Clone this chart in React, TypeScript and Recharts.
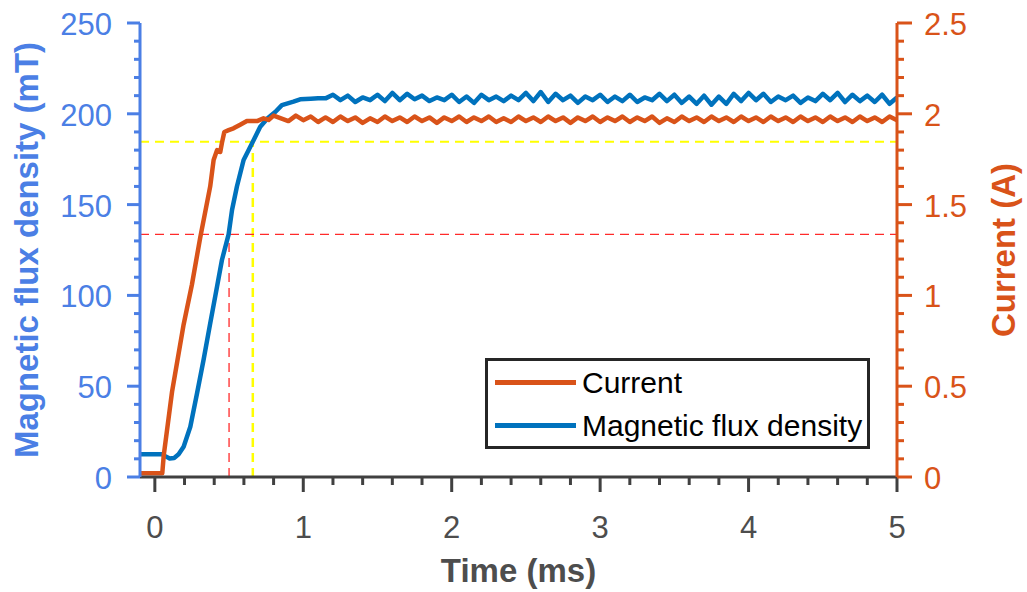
import React from 'react';
import { LineChart, Line, XAxis, YAxis, ReferenceLine, Legend, Label } from 'recharts';

const FONT = '"Liberation Sans", Arial, Helvetica, sans-serif';
const FLUX_AXIS = '#4b7fe5';
const CURRENT_COLOR = '#d95319';
const FLUX_COLOR = '#0072bd';
const AXIS_GREY = '#404040';
const TEXT_GREY = '#4d4d4d';

// tick values (major + minor)
const timeTicks = [0, 0.2, 0.4, 0.6, 0.8, 1, 1.2, 1.4, 1.6, 1.8, 2, 2.2, 2.4, 2.6, 2.8, 3, 3.2, 3.4, 3.6, 3.8, 4, 4.2, 4.4, 4.6, 4.8, 5];
const fluxTicks = [0, 10, 20, 30, 40, 50, 60, 70, 80, 90, 100, 110, 120, 130, 140, 150, 160, 170, 180, 190, 200, 210, 220, 230, 240, 250];
const currentTicks = [0, 0.1, 0.2, 0.3, 0.4, 0.5, 0.6, 0.7, 0.8, 0.9, 1, 1.1, 1.2, 1.3, 1.4, 1.5, 1.6, 1.7, 1.8, 1.9, 2, 2.1, 2.2, 2.3, 2.4, 2.5];

// [time ms, current A]
const currentTrace: [number, number][] = [
  [-0.1, 0.02], [0.0, 0.02], [0.05, 0.02], [0.06, 0.12], [0.116, 0.47], [0.194, 0.84], [0.25, 1.06],
  [0.306, 1.32], [0.373, 1.6], [0.396, 1.746], [0.419, 1.8], [0.441, 1.79], [0.452, 1.84], [0.468, 1.9],
  [0.497, 1.91], [0.53, 1.92], [0.575, 1.94], [0.62, 1.96], [0.688, 1.96], [0.732, 1.975], [0.766, 1.966],
  [0.8, 1.99], [0.85, 1.975], [0.9, 1.96], [0.95, 1.99], [1.0, 1.965], [1.05, 1.985], [1.1, 1.955],
  [1.15, 1.98], [1.2, 1.955], [1.25, 1.985], [1.3, 1.96], [1.35, 1.98], [1.4, 1.95], [1.45, 1.975],
  [1.5, 1.955], [1.55, 1.985], [1.6, 1.96], [1.65, 1.98], [1.7, 1.955], [1.75, 1.985], [1.8, 1.96],
  [1.85, 1.98], [1.9, 1.95], [1.95, 1.98], [2.0, 1.96], [2.05, 1.985], [2.1, 1.955], [2.15, 1.98],
  [2.2, 1.96], [2.25, 1.985], [2.3, 1.955], [2.35, 1.975], [2.4, 1.955], [2.45, 1.985], [2.5, 1.96],
  [2.55, 1.98], [2.6, 1.955], [2.65, 1.985], [2.7, 1.96], [2.75, 1.98], [2.8, 1.95], [2.85, 1.98],
  [2.9, 1.96], [2.95, 1.985], [3.0, 1.955], [3.05, 1.98], [3.1, 1.96], [3.15, 1.985], [3.2, 1.955],
  [3.25, 1.98], [3.3, 1.96], [3.35, 1.985], [3.4, 1.95], [3.45, 1.975], [3.5, 1.955], [3.55, 1.985],
  [3.6, 1.96], [3.65, 1.98], [3.7, 1.955], [3.75, 1.985], [3.8, 1.96], [3.85, 1.98], [3.9, 1.955],
  [3.95, 1.985], [4.0, 1.96], [4.05, 1.98], [4.1, 1.955], [4.15, 1.985], [4.2, 1.96], [4.25, 1.98],
  [4.3, 1.955], [4.35, 1.985], [4.4, 1.96], [4.45, 1.98], [4.5, 1.955], [4.55, 1.985], [4.6, 1.96],
  [4.65, 1.98], [4.7, 1.955], [4.75, 1.985], [4.8, 1.96], [4.85, 1.98], [4.9, 1.955], [4.95, 1.985],
  [5.0, 1.965],
];

// [time ms, flux density mT]
const fluxTrace: [number, number][] = [
  [-0.1, 12.5], [0.05, 12.5], [0.07, 11.5], [0.1, 10.2], [0.13, 10.5], [0.16, 12.5], [0.194, 16.7],
  [0.239, 27.7], [0.284, 46], [0.328, 64.4], [0.373, 84.6], [0.419, 104.8], [0.452, 119.5],
  [0.497, 133.6], [0.52, 147], [0.553, 160], [0.598, 174.6], [0.66, 184.6], [0.71, 192.9],
  [0.76, 197.5], [0.811, 201], [0.856, 204.8], [0.934, 206.7], [0.979, 208], [1.05, 208.3],
  [1.1, 208.5], [1.15, 208.5], [1.2, 210.5], [1.25, 207.5], [1.3, 210], [1.35, 206.5], [1.4, 209],
  [1.45, 207.5], [1.5, 210.5], [1.55, 207], [1.6, 211.5], [1.65, 207.5], [1.7, 211], [1.75, 208],
  [1.8, 210], [1.85, 207], [1.9, 209], [1.95, 207.5], [2.0, 210.5], [2.05, 206.5], [2.1, 209.5],
  [2.15, 206], [2.2, 210.5], [2.25, 207.5], [2.3, 209.5], [2.35, 207], [2.4, 210], [2.45, 207.5],
  [2.5, 211.5], [2.55, 207], [2.6, 212], [2.65, 206.5], [2.7, 211], [2.75, 207.5], [2.8, 210],
  [2.85, 206], [2.9, 209.5], [2.95, 207.5], [3.0, 210.5], [3.05, 206.5], [3.1, 209.5], [3.15, 207],
  [3.2, 210.5], [3.25, 206.5], [3.3, 209], [3.35, 207.5], [3.4, 211], [3.45, 207], [3.5, 210.5],
  [3.55, 206], [3.6, 209.5], [3.65, 205.5], [3.7, 210], [3.75, 205], [3.8, 209.5], [3.85, 205.5],
  [3.9, 211], [3.95, 207], [4.0, 211.5], [4.05, 207.5], [4.1, 211], [4.15, 206.5], [4.2, 209.5],
  [4.25, 207.5], [4.3, 210], [4.35, 206], [4.4, 209], [4.45, 207], [4.5, 211], [4.55, 207.5],
  [4.6, 211.5], [4.65, 206.5], [4.7, 210.5], [4.75, 207], [4.8, 210], [4.85, 206.5], [4.9, 210.5],
  [4.95, 205.5], [5.0, 209],
];

// dashed markers (time ms / flux mT)
const t90 = 0.66;
const flux90 = 184.6;
const tMid = 0.5;
const fluxMid = 133.6;

const legendItems = [
  { name: 'Current', color: CURRENT_COLOR },
  { name: 'Magnetic flux density', color: FLUX_COLOR },
];

const currentData = currentTrace.map(([t, v]) => ({ t, v }));
const fluxData = fluxTrace.map(([t, v]) => ({ t, v }));

const isMultiple = (v: number, step: number) => Math.abs(v / step - Math.round(v / step)) < 1e-6;

const FluxTick = ({ x, y, payload }: any) => {
  const major = isMultiple(payload.value, 50);
  return (
    <g>
      <line x1={x} x2={x - (major ? 13 : 6)} y1={y} y2={y} stroke={FLUX_AXIS} strokeWidth={3} />
      {major && (
        <text x={x - 28} y={y + 12} textAnchor="end" fontSize={31} fontFamily={FONT} fill={FLUX_AXIS}>
          {payload.value}
        </text>
      )}
    </g>
  );
};

const CurrentTick = ({ x, y, payload }: any) => {
  const major = isMultiple(payload.value, 0.5);
  return (
    <g>
      <line x1={x} x2={x + (major ? 15 : 7)} y1={y} y2={y} stroke={CURRENT_COLOR} strokeWidth={3} />
      {major && (
        <text x={x + 27} y={y + 12} textAnchor="start" fontSize={31} fontFamily={FONT} fill={CURRENT_COLOR}>
          {String(payload.value)}
        </text>
      )}
    </g>
  );
};

const TimeTick = ({ x, y, payload }: any) => {
  const major = isMultiple(payload.value, 1);
  return (
    <g>
      <line x1={x} x2={x} y1={y} y2={y + (major ? 15 : 8)} stroke={AXIS_GREY} strokeWidth={3} />
      {major && (
        <text x={x} y={y + 61} textAnchor="middle" fontSize={31} fontFamily={FONT} fill={TEXT_GREY}>
          {payload.value}
        </text>
      )}
    </g>
  );
};

const LegendBox = () => (
  <div
    style={{
      width: 379,
      height: 85,
      border: '3px solid #262626',
      background: '#fff',
      fontFamily: FONT,
      fontSize: 30,
      color: '#000',
    }}
  >
    {legendItems.map((item) => (
      <div key={item.name} style={{ display: 'flex', alignItems: 'center', height: 43 }}>
        <div style={{ width: 81, height: 5, background: item.color, marginLeft: 7, marginRight: 6 }} />
        <span style={{ lineHeight: '30px', whiteSpace: 'nowrap' }}>{item.name}</span>
      </div>
    ))}
  </div>
);

const App = () => {
  return (
    <div style={{ position: 'absolute', left: 0, top: 0, width: 1027, height: 592, background: '#fff' }}>
      <LineChart width={1027} height={592} margin={{ top: 23, right: 0, bottom: 0, left: 0 }}>
        <XAxis
          type="number"
          dataKey="t"
          domain={[-0.1, 5]}
          ticks={timeTicks}
          interval={0}
          allowDataOverflow
          height={115}
          tickSize={0}
          tickMargin={0}
          tickLine={false}
          axisLine={{ stroke: AXIS_GREY, strokeWidth: 3 }}
          tick={<TimeTick />}
        >
          <Label
            content={(p: any) => {
              const vb = p.viewBox || { x: 140, y: 477, width: 757 };
              return (
                <text x={vb.x + vb.width / 2} y={vb.y + 105} textAnchor="middle" fontSize={33} fontWeight="bold" fontFamily={FONT} fill={TEXT_GREY}>
                  Time (ms)
                </text>
              );
            }}
          />
        </XAxis>
        <YAxis
          yAxisId="flux"
          orientation="left"
          type="number"
          domain={[0, 250]}
          ticks={fluxTicks}
          interval={0}
          width={140}
          tickSize={0}
          tickMargin={0}
          tickLine={false}
          axisLine={{ stroke: FLUX_AXIS, strokeWidth: 3 }}
          tick={<FluxTick />}
        >
          <Label
            content={(p: any) => {
              const vb = p.viewBox || { x: 0, y: 23, height: 454 };
              const cy = vb.y + vb.height / 2;
              return (
                <text transform={`translate(38, ${cy}) rotate(-90)`} textAnchor="middle" fontSize={33} fontWeight="bold" fontFamily={FONT} fill={FLUX_AXIS}>
                  Magnetic flux density (mT)
                </text>
              );
            }}
          />
        </YAxis>
        <YAxis
          yAxisId="current"
          orientation="right"
          type="number"
          domain={[0, 2.5]}
          ticks={currentTicks}
          interval={0}
          width={130}
          tickSize={0}
          tickMargin={0}
          tickLine={false}
          axisLine={{ stroke: CURRENT_COLOR, strokeWidth: 3 }}
          tick={<CurrentTick />}
        >
          <Label
            content={(p: any) => {
              const vb = p.viewBox || { x: 897, y: 23, height: 454 };
              const cy = vb.y + vb.height / 2;
              return (
                <text transform={`translate(1015, ${cy}) rotate(-90)`} textAnchor="middle" fontSize={33} fontWeight="bold" fontFamily={FONT} fill={CURRENT_COLOR}>
                  Current (A)
                </text>
              );
            }}
          />
        </YAxis>

        <ReferenceLine yAxisId="flux" y={flux90} stroke="#ffff00" strokeWidth={2} strokeDasharray="9 6" />
        <ReferenceLine
          yAxisId="flux"
          segment={[{ x: t90, y: 0 }, { x: t90, y: flux90 }]}
          stroke="#ffff00"
          strokeWidth={2.5}
          strokeDasharray="9 6"
        />
        <ReferenceLine yAxisId="flux" y={fluxMid} stroke="#ff2a2a" strokeWidth={1.3} strokeDasharray="9 6" />
        <ReferenceLine
          yAxisId="flux"
          segment={[{ x: tMid, y: 0 }, { x: tMid, y: fluxMid }]}
          stroke="#ff2a2a"
          strokeWidth={1.3}
          strokeDasharray="9 6"
        />

        <Line
          yAxisId="flux"
          data={fluxData}
          dataKey="v"
          type="linear"
          dot={false}
          stroke={FLUX_COLOR}
          strokeWidth={4.5}
          strokeLinejoin="round"
          isAnimationActive={false}
        />
        <Line
          yAxisId="current"
          data={currentData}
          dataKey="v"
          type="linear"
          dot={false}
          stroke={CURRENT_COLOR}
          strokeWidth={4.5}
          strokeLinejoin="round"
          isAnimationActive={false}
        />

        <Legend
          layout="vertical"
          align="center"
          verticalAlign="middle"
          content={<LegendBox />}
          wrapperStyle={{ left: 485, top: 358, width: 385, height: 91 }}
        />
      </LineChart>
    </div>
  );
};

export default App;
